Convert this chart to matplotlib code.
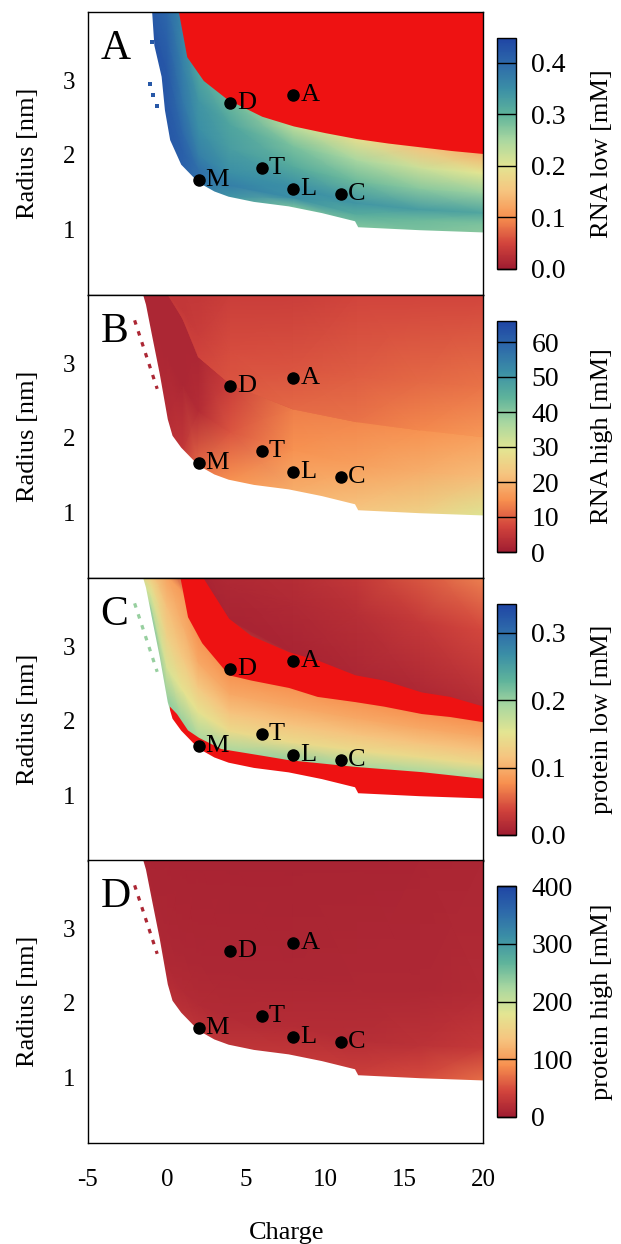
import numpy as np
import matplotlib
matplotlib.use("Agg")
import matplotlib.pyplot as plt
from matplotlib.colors import LinearSegmentedColormap, Normalize
from matplotlib.cm import ScalarMappable

plt.rcParams['font.family'] = ['Liberation Serif', 'DejaVu Serif']
plt.rcParams['font.size'] = 18
plt.rcParams['axes.unicode_minus'] = False

# ---------------------------------------------------------------- data
# charge columns on which the concentration maps are tabulated
grid_charge = [-2, -1, 0, 1, 2, 4, 8, 12, 16, 20]

# lower limit of the stable region (nothing below)
edge_charge = [-1.55, -1.33, -0.95, -0.45, 0.05, 0.35, 0.9, 2.0, 3.0, 3.9,
               5.5, 7.7, 9.8, 11.9, 12.1, 16.0, 20.0]
edge_radius = [3.95, 3.79, 3.38, 2.85, 2.25, 2.03, 1.87, 1.63, 1.51, 1.44,
               1.37, 1.31, 1.22, 1.11, 1.03, 0.99, 0.96]

# left limit of the low-RNA map
rna_low_edge_charge = [-0.95, -0.8, -0.34, -0.13, 0.2, 0.9, 2.0, 3.0, 3.9,
                       5.5, 7.7, 9.8, 11.9, 12.1, 16.0, 20.0]
rna_low_edge_radius = [3.95, 3.47, 3.05, 2.6, 2.2, 1.87, 1.63, 1.51, 1.44,
                       1.37, 1.31, 1.22, 1.11, 1.03, 0.99, 0.96]

# boundary of the dense-phase region
phase_charge = [0.7, 1.25, 2.3, 3.8, 6, 8, 10, 12, 14, 16, 18, 20]
phase_radius = [3.95, 3.32, 3.0, 2.75, 2.52, 2.39, 2.3, 2.22, 2.16, 2.11, 2.06, 2.02]

# protein-low map: lower depleted strip and upper depleted band
strip_charge = [0.15, 0.6, 1.3, 2.0, 3.4, 6.0, 7.7, 11.9, 16.1, 20.0]
strip_radius = [2.2, 2.1, 1.88, 1.78, 1.63, 1.54, 1.48, 1.39, 1.32, 1.23]
band_charge = [0.8, 1.3, 2.2, 3.9, 5.3, 7.7, 9.5, 11.9, 13.7, 16.1, 17.9, 20]
band_lower = [3.95, 3.4, 3.05, 2.62, 2.55, 2.45, 2.33, 2.26, 2.2, 2.1, 2.06, 1.99]
band_upper = [4.2, 4.2, 3.95, 3.38, 3.15, 2.93, 2.82, 2.62, 2.55, 2.39, 2.33, 2.2]

# isolated points left of the main region
streak_charge = [-2.05, -0.62]
streak_radius = [3.58, 2.66]
rna_low_spot_charge = [-0.97, -1.05, -0.87, -0.65]
rna_low_spot_radius = [3.52, 2.95, 2.8, 2.66]

# labelled systems
sys_names = ['M', 'D', 'T', 'A', 'L', 'C']
sys_charge = [2, 4, 6, 8, 8, 11]
sys_radius = [1.665, 2.695, 1.83, 2.8, 1.55, 1.47]

# RNA low [mM]: rows from the lower edge (0) to the dense boundary (1)
rna_low_fracs = [0.0, 0.12, 0.25, 0.5, 0.75, 1.0]
rna_low = [
    [0.43, 0.43, 0.42, 0.41, 0.39, 0.34, 0.28, 0.28, 0.28, 0.27],
    [0.43, 0.43, 0.42, 0.41, 0.39, 0.37, 0.35, 0.31, 0.29, 0.28],
    [0.43, 0.43, 0.42, 0.40, 0.37, 0.35, 0.35, 0.34, 0.33, 0.32],
    [0.43, 0.43, 0.42, 0.38, 0.35, 0.33, 0.31, 0.29, 0.27, 0.26],
    [0.42, 0.42, 0.41, 0.37, 0.34, 0.32, 0.28, 0.25, 0.22, 0.20],
    [0.42, 0.42, 0.40, 0.36, 0.32, 0.29, 0.23, 0.19, 0.15, 0.13],
]

# RNA high [mM]: below the dense boundary (edge, middle, boundary) ...
rna_high_band = [
    [2, 2, 3, 5, 11, 15, 19, 22, 25, 30],
    [2, 2, 2, 2, 3, 9, 15, 17, 19, 21],
    [2, 2, 2, 2, 2, 6, 13, 14, 15, 17],
]
# ... and above it (boundary, 35 %, top)
rna_high_top = [
    [5, 5, 5, 6, 7, 9, 11, 12, 14, 16],
    [5, 5, 5, 5, 6, 8, 9, 10, 11, 12],
    [5, 5, 5, 5, 5, 6, 6, 7, 7, 7],
]

# protein low [mM]: between the two depleted zones ...
protein_low_fracs = [0.0, 0.25, 0.5, 0.75, 1.0]
protein_low_band = [
    [0.21, 0.21, 0.20, 0.20, 0.19, 0.19, 0.20, 0.19, 0.19, 0.19],
    [0.19, 0.18, 0.16, 0.15, 0.15, 0.14, 0.14, 0.14, 0.14, 0.14],
    [0.18, 0.16, 0.13, 0.12, 0.12, 0.115, 0.115, 0.115, 0.115, 0.115],
    [0.17, 0.14, 0.11, 0.10, 0.095, 0.095, 0.095, 0.095, 0.095, 0.095],
    [0.16, 0.12, 0.09, 0.085, 0.08, 0.08, 0.08, 0.08, 0.08, 0.08],
]
# ... and in the dense core (band edge, middle, top)
protein_low_core = [
    [0.008, 0.008, 0.008, 0.008, 0.008, 0.008, 0.008, 0.010, 0.012, 0.015],
    [0.008, 0.008, 0.008, 0.010, 0.010, 0.011, 0.013, 0.018, 0.028, 0.040],
    [0.010, 0.010, 0.010, 0.011, 0.012, 0.015, 0.020, 0.032, 0.055, 0.085],
]

# protein high [mM]: rows from the lower edge to the top
protein_high_fracs = [0.0, 0.15, 0.4, 1.0]
protein_high = [
    [12, 14, 18, 24, 28, 28, 30, 36, 48, 70],
    [12, 12, 14, 16, 17, 17, 18, 20, 24, 32],
    [10, 10, 11, 12, 12, 12, 12, 13, 14, 16],
    [9, 9, 9, 9, 9, 9, 9, 9, 10, 11],
]

panel_letters = ['A', 'B', 'C', 'D']
cbar_labels = ['RNA low [mM]', 'RNA high [mM]', 'protein low [mM]', 'protein high [mM]']
cbar_vmax = [0.448, 66.0, 0.343, 400.0]
cbar_ticks = [[0, 0.1, 0.2, 0.3, 0.4], [0, 10, 20, 30, 40, 50, 60],
              [0, 0.1, 0.2, 0.3], [0, 100, 200, 300, 400]]
cbar_ticklabels = [['0.0', '0.1', '0.2', '0.3', '0.4'],
                   ['0', '10', '20', '30', '40', '50', '60'],
                   ['0.0', '0.1', '0.2', '0.3'],
                   ['0', '100', '200', '300', '400']]

# ---------------------------------------------------------------- style
cmap = LinearSegmentedColormap.from_list('conc', [
    (0.00, '#a01d31'), (0.11, '#d2443c'), (0.223, '#f7904f'),
    (0.335, '#f6c47f'), (0.446, '#e3e592'), (0.558, '#a9d7a0'),
    (0.67, '#5eb39b'), (0.78, '#3b8fa6'), (0.893, '#2d68aa'),
    (1.00, '#1f45a4')])
UNDER = '#ee1212'
cmap.set_under(UNDER)

gc = np.asarray(grid_charge, float)
L = np.interp(gc, edge_charge, edge_radius)
U = np.interp(gc, phase_charge, phase_radius)
TOP = 3.95


def draw_mesh(ax, rows, values, norm):
    X = np.tile(gc, (len(rows), 1))
    Y = np.vstack(rows)
    ax.pcolormesh(X, Y, np.asarray(values, float), shading='gouraud',
                  cmap=cmap, norm=norm, zorder=1)


def blank_below(ax, xs, ys):
    px = np.concatenate([[-6, -6, xs[0]], xs, [21, 21]])
    py = np.concatenate([[0, 4.5, 4.5], ys, [ys[-1], 0]])
    ax.fill(px, py, color='white', lw=0, zorder=3)


W, H = 621, 1244
fig = plt.figure(figsize=(W / 100, H / 100), dpi=100)

ax_left, ax_w = 88 / W, 395 / W
ax_h = 283 / H
panel_tops = [12, 295, 578, 860]
cb_left, cb_w = 497 / W, 19 / W
cb_h = 231 / H
cb_tops = [38, 321, 604, 886]

norms = [Normalize(0, v) for v in cbar_vmax]
for i in range(4):
    ax = fig.add_axes([ax_left, 1 - (panel_tops[i] + 283) / H, ax_w, ax_h])
    norm = norms[i]

    if i == 0:
        v = np.asarray(rna_low, float)
        rows = [L - 0.5] + [L + f * (U - L) for f in rna_low_fracs] + [U + 0.3]
        vals = np.vstack([v[0], v, v[-1]])
        draw_mesh(ax, rows, vals, norm)
        ax.fill_between(phase_charge, phase_radius, 4.5, color=UNDER, lw=0, zorder=2)
        blank_below(ax, rna_low_edge_charge, rna_low_edge_radius)
        ax.plot(rna_low_spot_charge, rna_low_spot_radius, ls='none', marker='s',
                ms=2.2, mew=0, color=cmap(norm(0.42)), zorder=4)
    elif i == 1:
        b = np.asarray(rna_high_band, float)
        t = np.asarray(rna_high_top, float)
        rows = [L - 0.5, L, L + 0.5 * (U - L), U,
                U, U + 0.35 * (TOP - U), np.full_like(U, TOP)]
        vals = np.vstack([b[0], b, t])
        draw_mesh(ax, rows, vals, norm)
        blank_below(ax, edge_charge, edge_radius)
        ax.plot(streak_charge, streak_radius, lw=2.3, ls=(0, (1.4, 2.2)),
                color=cmap(norm(2)), zorder=4)
    elif i == 2:
        b = np.asarray(protein_low_band, float)
        k = np.asarray(protein_low_core, float)
        r1 = np.maximum(np.interp(gc, strip_charge, strip_radius), L)
        r2 = np.interp(gc, band_charge, band_lower)
        r3 = np.interp(gc, band_charge, band_upper)
        top = 4.25
        rows = ([L - 0.5] + [r1 + f * (r2 - r1) for f in protein_low_fracs]
                + [r3, r3 + 0.5 * (top - r3), np.full_like(r3, top)])
        vals = np.vstack([b[0], b, k])
        draw_mesh(ax, rows, vals, norm)
        ax.fill_between(strip_charge, 0, strip_radius, color=UNDER, lw=0, zorder=2)
        ax.fill_between(band_charge, band_lower, band_upper, color=UNDER, lw=0, zorder=2)
        blank_below(ax, edge_charge, edge_radius)
        ax.plot(streak_charge, streak_radius, lw=2.3, ls=(0, (1.4, 2.2)),
                color=cmap(norm(0.2)), zorder=4)
    else:
        v = np.asarray(protein_high, float)
        rows = [L - 0.5] + [L + f * (TOP - L) for f in protein_high_fracs]
        vals = np.vstack([v[0], v])
        draw_mesh(ax, rows, vals, norm)
        blank_below(ax, edge_charge, edge_radius)
        ax.plot(streak_charge, streak_radius, lw=2.3, ls=(0, (1.4, 2.2)),
                color=cmap(norm(12)), zorder=4)

    # labelled systems
    ax.plot(sys_charge, sys_radius, 'o', color='black', ms=8, zorder=5)
    for name, c, r in zip(sys_names, sys_charge, sys_radius):
        ax.annotate(name, (c, r), xytext=(7, -6), textcoords='offset pixels',
                    ha='left', va='baseline', fontsize=19, zorder=6)

    ax.text(0.032, 0.833, panel_letters[i], transform=ax.transAxes,
            ha='left', va='baseline', fontsize=30, zorder=6)

    ax.set_xlim(-5, 20)
    ax.set_ylim(0.12, 3.92)
    ax.set_yticks([1, 2, 3])
    ax.set_xticks([-5, 0, 5, 10, 15, 20])
    ax.tick_params(axis='y', direction='in', length=9, width=1, pad=9, labelsize=18)
    ax.tick_params(axis='x', length=0, pad=19, labelsize=18,
                   labelbottom=(i == 3))
    for s in ax.spines.values():
        s.set_linewidth(1.0)
        s.set_zorder(7)
    fig.text(28 / W, 1 - (panel_tops[i] + 141.5) / H, 'Radius [nm]',
             rotation=90, ha='center', va='center', fontsize=19)

    # colour bar
    cax = fig.add_axes([cb_left, 1 - (cb_tops[i] + 231) / H, cb_w, cb_h])
    cb = fig.colorbar(ScalarMappable(norm=norm, cmap=cmap), cax=cax)
    cb.set_ticks(cbar_ticks[i])
    cb.set_ticklabels(cbar_ticklabels[i])
    cb.outline.set_linewidth(1.0)
    cax.tick_params(axis='y', direction='in', length=13.7, width=1.0,
                    color='black', pad=11, labelsize=20)
    fig.text(602 / W, 1 - (cb_tops[i] + 115.5) / H, cbar_labels[i],
             rotation=90, ha='center', va='center', fontsize=19)

fig.text(287 / W, 0.004, 'Charge', ha='center', va='baseline', fontsize=19)

fig.savefig('out.png', dpi=100, facecolor='white')
